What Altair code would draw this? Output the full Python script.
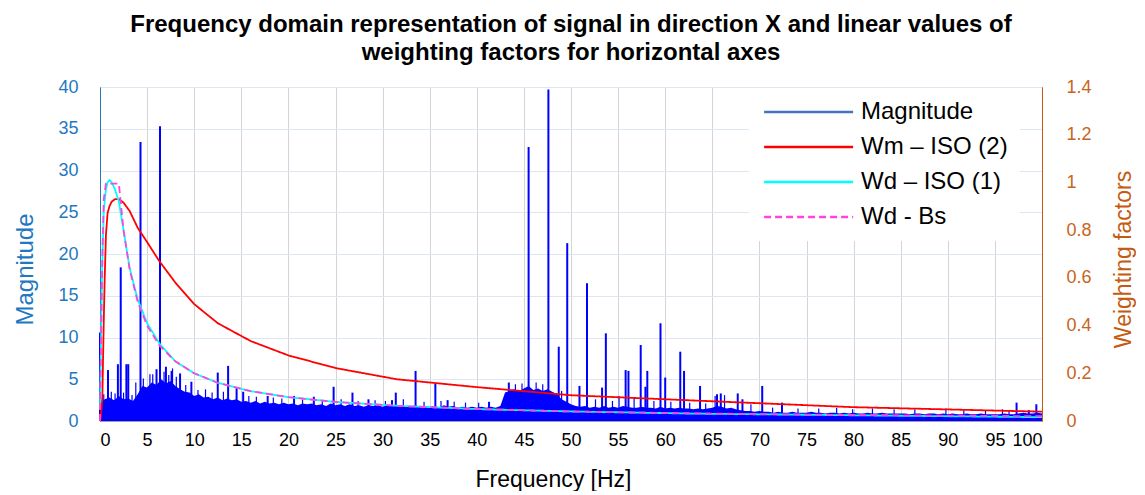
import altair as alt
import pandas as pd

FONT = "Liberation Sans"

# ---------------- data ----------------
# dense noise band of the magnitude spectrum, one value every 0.5 Hz (0 ... 100 Hz)
band_step = 0.5
band_mag = [
    2.0, 2.6, 2.8, 2.5, 3.0, 2.6, 2.7, 2.4, 3.2, 4.2,
    4.0, 4.6, 4.3, 5.0, 4.5, 4.8, 4.2, 3.8, 3.5, 3.4,
    3.0, 3.2, 2.8, 2.9, 2.6, 2.8, 2.5, 2.7, 2.5, 2.6,
    2.3, 2.4, 2.2, 2.4, 2.1, 2.3, 2.1, 2.2, 2.0, 2.2,
    2.0, 2.1, 1.9, 2.1, 2.0, 2.1, 1.9, 2.0, 1.8, 2.1,
    1.9, 2.0, 1.8, 2.0, 1.8, 1.9, 1.7, 1.9, 1.8, 1.9,
    1.7, 1.9, 1.8, 1.9, 1.7, 1.8, 1.7, 1.9, 1.7, 1.8,
    1.7, 1.8, 1.6, 1.9, 1.7, 1.8, 1.6, 1.7, 1.6, 1.7,
    1.6, 1.7, 1.6, 1.7, 1.6, 1.8, 3.4, 3.6, 3.8, 3.6,
    3.9, 4.2, 3.7, 3.9, 3.6, 3.8, 3.5, 3.2, 2.6, 2.3,
    2.0, 1.8, 1.7, 1.8, 1.6, 1.7, 1.6, 1.8, 1.6, 1.7,
    1.6, 1.8, 1.7, 1.6, 1.6, 1.7, 1.6, 1.6, 1.5, 1.7,
    1.5, 1.6, 1.5, 1.6, 1.5, 1.5, 1.4, 1.5, 1.4, 1.5,
    1.6, 1.8, 1.7, 1.5, 1.6, 1.4, 1.3, 1.2, 1.2, 1.1,
    1.2, 1.1, 1.1, 1.0, 1.1, 1.0, 1.0, 1.1, 1.0, 1.0,
    1.0, 1.1, 1.0, 1.0, 0.9, 1.0, 1.0, 0.9, 1.0, 0.9,
    1.0, 0.9, 0.9, 1.0, 0.9, 0.9, 1.0, 0.9, 0.9, 0.9,
    0.9, 0.9, 0.8, 0.9, 0.9, 0.8, 0.9, 0.9, 0.8, 0.9,
    0.8, 0.9, 0.8, 0.8, 0.9, 0.8, 0.8, 0.9, 0.8, 0.8,
    0.8, 0.8, 0.9, 0.8, 0.8, 0.9, 1.0, 0.9, 0.9, 1.0,
    0.9,
]
band_freq = [i * band_step for i in range(len(band_mag))]

# distinct peaks of the magnitude spectrum
peak_freq = [0.0, 0.85, 1.9, 2.2, 2.8, 3.0, 4.3, 6.37, 6.0, 7.0, 7.6, 8.5, 9.7,
             12.5, 13.6, 14.5, 15.2, 17.8, 20.6, 22.7, 24.8, 26.8, 28.5, 31.0,
             31.4, 33.5, 35.6, 36.9, 41.3, 43.4, 45.5, 47.6, 48.7, 49.6, 50.9,
             51.7, 53.3, 53.7, 55.8, 56.1, 57.4, 57.9, 58.1, 59.5, 60.0, 61.6,
             62.0, 63.7, 65.5, 65.9, 67.7, 68.2, 70.3, 72.4, 97.3, 98.6, 99.4]
peak_mag = [10.6, 6.1, 6.8, 18.4, 6.8, 6.8, 33.4, 35.3, 6.2, 6.5, 6.0, 5.7, 4.7,
            5.8, 6.6, 4.0, 3.5, 3.0, 3.0, 2.9, 4.1, 3.4, 2.6, 2.5,
            3.4, 6.0, 4.5, 2.5, 2.3, 4.6, 32.8, 39.7, 8.9, 21.3, 4.2,
            16.5, 4.0, 10.5, 6.1, 6.0, 9.1, 4.1, 6.0, 11.7, 5.2, 8.3,
            6.0, 4.2, 3.2, 3.3, 3.3, 2.6, 4.2, 2.2, 2.2, 1.3, 2.0]

# smaller spikes sticking out of the noise band
minor_freq = [0.4, 1.2, 1.6, 2.5, 3.4, 3.8, 4.6, 5.3, 5.6, 6.8,
              7.3, 7.7, 8.1, 9.1, 10.4, 11.2, 11.9, 13.1, 15.8, 16.6,
              18.4, 19.3, 21.5, 23.6, 25.6, 27.4, 29.2, 30.3, 32.2, 34.4,
              36.2, 37.6, 38.8, 40.2, 44.1, 44.8, 46.3, 47.0, 49.0, 52.6,
              54.4, 55.1, 56.7, 58.8, 60.6, 62.6, 64.3, 65.3, 66.3, 69.1,
              71.4, 74.1, 76.3, 78.2, 79.9, 82.0, 84.3, 86.5, 89.8, 91.7,
              94.0, 95.8, 96.5]
minor_mag = [3.2, 3.5, 3.3, 3.4, 3.1, 4.6, 5.1, 5.6, 5.6, 5.9,
             5.5, 6.3, 5.3, 4.3, 3.7, 3.8, 3.4, 3.5, 3.0, 2.9,
             2.8, 2.7, 2.6, 2.5, 2.6, 2.4, 2.5, 2.4, 2.6, 2.3,
             2.4, 2.3, 2.2, 2.2, 4.4, 4.5, 4.6, 4.4, 3.6, 2.6,
             2.4, 3.0, 2.8, 2.4, 2.3, 2.2, 2.1, 3.0, 3.1, 2.0,
             1.6, 1.5, 1.5, 1.6, 1.4, 1.5, 1.4, 1.4, 1.5, 1.3,
             1.3, 1.4, 1.3]

# weighting factors (linear)
wm_freq = [0, 0.1, 0.25, 0.4, 0.5, 0.63, 0.8, 1, 1.25, 1.6, 2, 2.5, 3.15, 4, 5,
           6.3, 8, 10, 12.5, 16, 20, 25, 31.5, 40, 50, 63, 80, 100]
wm_val = [0.0, 0.02, 0.1, 0.42, 0.6, 0.78, 0.87, 0.9, 0.92, 0.93, 0.93, 0.915,
          0.88, 0.81, 0.75, 0.67, 0.58, 0.49, 0.41, 0.335, 0.275, 0.222, 0.175,
          0.142, 0.108, 0.086, 0.058, 0.039]

wd_freq = [0, 0.1, 0.2, 0.4, 0.63, 0.8, 1, 1.25, 1.6, 2, 2.5, 3.15, 4, 5, 6.3,
           8, 10, 12.5, 16, 20, 25, 31.5, 40, 50, 63, 80, 100]
wd_val = [0.05, 0.3, 0.58, 0.88, 0.97, 1.0, 1.01, 1.0, 0.97, 0.92, 0.8, 0.64,
          0.51, 0.41, 0.325, 0.25, 0.2, 0.16, 0.125, 0.1, 0.08, 0.064, 0.05,
          0.04, 0.031, 0.024, 0.016]

bs_freq = [0, 0.1, 0.25, 0.4, 0.63, 2.0, 2.5, 3.15, 4, 5, 6.3, 8, 10, 12.5, 16,
           20, 25, 31.5, 40, 50, 63, 80, 100]
bs_val = [0.0, 0.3, 0.7, 0.93, 0.995, 0.995, 0.8, 0.635, 0.5, 0.4, 0.317, 0.25,
          0.2, 0.16, 0.125, 0.1, 0.08, 0.0635, 0.05, 0.04, 0.0317, 0.025, 0.02]

series_names = ["Magnitude", "Wm – ISO (2)", "Wd – ISO (1)", "Wd - Bs"]
series_colors = ["#4472C4", "#FF0000", "#00FFFF", "#FF44DD"]
series_dash = [[1, 0], [1, 0], [1, 0], [7, 4]]

x_ticks = list(range(0, 101, 5))
mag_ticks = list(range(0, 41, 5))
w_ticks = [0, 0.2, 0.4, 0.6, 0.8, 1, 1.2, 1.4]

# ---------------- tables ----------------
band_df = pd.DataFrame({"f": band_freq, "m": band_mag})
peak_df = pd.DataFrame({"f": peak_freq, "m": peak_mag})
minor_df = pd.DataFrame({"f": minor_freq, "m": minor_mag})

rows = []
for name, fs, vs in [(series_names[1], wm_freq, wm_val),
                     (series_names[2], wd_freq, wd_val),
                     (series_names[3], bs_freq, bs_val)]:
    for f, v in zip(fs, vs):
        rows.append({"series": name, "f": f, "w": v})
w_df = pd.DataFrame(rows)

# ---------------- encodings ----------------
x_enc = alt.X(
    "f:Q",
    scale=alt.Scale(domain=[0, 100], nice=False, zero=False),
    axis=alt.Axis(
        values=x_ticks, title="Frequency [Hz]", titleFontSize=23,
        titleFontWeight="normal", titleColor="black", titlePadding=19,
        titleX=453, labelFontSize=18, labelColor="black", labelPadding=10,
        labelFlush=True, ticks=False, domainColor="#A0A0A0",
        gridColor="#D4D4D4", grid=True,
    ),
)

y_mag = alt.Y(
    "m:Q",
    scale=alt.Scale(domain=[0, 40], nice=False),
    axis=alt.Axis(
        values=mag_ticks, title="Magnitude", titleFontSize=24,
        titleFontWeight="normal", titleColor="#1F78C1", titlePadding=20,
        titleY=182, labelFontSize=18, labelColor="#1F78C1", labelPadding=22,
        ticks=False, domainColor="#2E75B6", gridColor="#DCE7F2", grid=True,
    ),
)

area = alt.Chart(band_df).mark_area(color="#0000FF", interpolate="linear").encode(
    x=x_enc, y=y_mag
)
minor = alt.Chart(minor_df).mark_rule(color="#0000FF", strokeWidth=1.2).encode(
    x="f:Q", y=y_mag, y2=alt.datum(0)
)
peaks = alt.Chart(peak_df).mark_rule(color="#0000FF", strokeWidth=2).encode(
    x="f:Q", y=y_mag, y2=alt.datum(0)
)
mag_layer = alt.layer(area, minor, peaks)

# legend symbol: a line starting at the symbol box's left edge, 5x the box width long
legend = alt.Legend(
    title=None, orient="none", legendX=649, legendY=1, padding=12,
    fillColor="white", labelFontSize=24, labelFont=FONT, labelColor="black",
    symbolType="M-1,0H9", symbolSize=317, symbolStrokeWidth=2.5,
    labelOffset=76, rowPadding=11, labelLimit=400,
)

lines = alt.Chart(w_df).mark_line(strokeWidth=1.8).encode(
    x="f:Q",
    y=alt.Y(
        "w:Q",
        scale=alt.Scale(domain=[0, 1.4], nice=False),
        axis=alt.Axis(
            orient="right", values=w_ticks, format=".1~f",
            title="Weighting factors", titleFontSize=23, titleFontWeight="normal",
            titleColor="#C55A11", titleAngle=270, titlePadding=44, titleY=172,
            labelFontSize=18, labelColor="#C8651B", labelPadding=24,
            ticks=False, domainColor="#C55A11", grid=False,
        ),
    ),
    color=alt.Color(
        "series:N",
        scale=alt.Scale(domain=series_names, range=series_colors),
        legend=legend,
    ),
    strokeDash=alt.StrokeDash(
        "series:N",
        scale=alt.Scale(domain=series_names, range=series_dash),
        legend=legend,
    ),
)

chart = (
    alt.layer(mag_layer, lines)
    .resolve_scale(y="independent")
    .properties(
        width=942,
        height=334,
        padding={"left": 5, "top": 5, "right": 0, "bottom": 0},
        title=alt.TitleParams(
            ["Frequency domain representation of signal in direction X and linear values of",
             "weighting factors for horizontal axes"],
            fontSize=24, fontWeight="bold", font=FONT, color="black",
            lineHeight=28, offset=13, anchor="middle",
        ),
    )
    .configure(font=FONT)
    .configure_view(stroke="#7F7F7F", strokeWidth=1)
    .configure_axis(labelFont=FONT, titleFont=FONT)
)

chart.save("out.html", embed_options={"renderer": "svg", "actions": False})
